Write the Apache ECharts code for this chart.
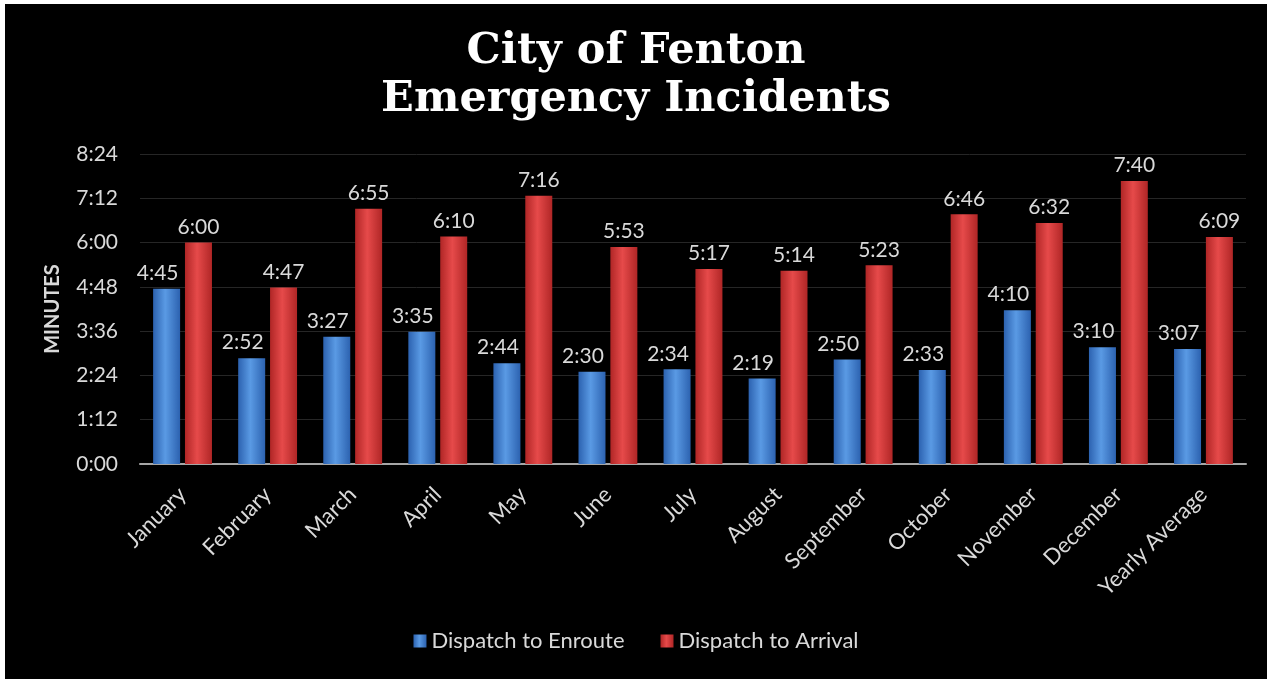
<!DOCTYPE html>
<html>
<head>
<meta charset="utf-8">
<script src="https://cdn.jsdelivr.net/npm/echarts@6/dist/echarts.min.js"></script>
<style>
  html, body { margin: 0; padding: 0; background: #ffffff; }
  #main { position: absolute; left: 5px; top: 4px; width: 1262px; height: 675px; background: #000; }
</style>
</head>
<body>
<div id="main"></div>
<script>
// months + yearly average
const categories = ['January', 'February', 'March', 'April', 'May', 'June', 'July',
  'August', 'September', 'October', 'November', 'December', 'Yearly Average']
// times in seconds
const enroute = [285, 172, 207, 215, 164, 150, 154, 139, 170, 153, 250, 190, 187]
const arrival = [360, 287, 415, 370, 436, 353, 317, 314, 323, 406, 392, 460, 369]

const txt = '#d9d9d9'
const font = 'Lato, "Open Sans", sans-serif'

function mmss(v) {
  const m = Math.floor(v / 60)
  const s = Math.round(v % 60)
  return m + ':' + (s < 10 ? '0' + s : s)
}

function barFill(dark, light) {
  return new echarts.graphic.LinearGradient(0, 0, 1, 0, [
    { offset: 0, color: dark },
    { offset: 0.45, color: light },
    { offset: 1, color: dark },
  ])
}

const chart = echarts.init(document.getElementById('main'))
const option = {
  backgroundColor: '#000',
  title: {
    text: 'City of Fenton\nEmergency Incidents',
    left: 'center',
    top: 19,
    textStyle: {
      fontFamily: '"DejaVu Serif", serif',
      fontWeight: 'bold',
      fontSize: 43,
      lineHeight: 48,
      color: '#ffffff',
    },
  },
  legend: {
    bottom: 22,
    left: 'center',
    itemWidth: 13,
    itemHeight: 13,
    itemGap: 36,
    icon: 'rect',
    textStyle: { color: txt, fontSize: 22, fontFamily: font },
    data: ['Dispatch to Enroute', 'Dispatch to Arrival'],
  },
  grid: { left: 135, right: 21, top: 150, bottom: 215 },
  xAxis: {
    type: 'category',
    data: categories,
    axisTick: { show: false },
    axisLine: { lineStyle: { color: '#a6a6a6', width: 2 } },
    axisLabel: {
      rotate: 45,
      color: txt,
      fontSize: 22,
      fontFamily: font,
      margin: 27,
    },
  },
  yAxis: {
    type: 'value',
    min: 0,
    max: 504,
    interval: 72,
    name: 'MINUTES',
    nameLocation: 'middle',
    nameGap: 77,
    nameRotate: 90,
    nameTextStyle: { color: txt, fontSize: 20, fontWeight: 'bold', fontFamily: font },
    axisLine: { show: false },
    axisTick: { show: false },
    axisLabel: { color: txt, fontSize: 21, fontFamily: font, margin: 22, formatter: mmss },
    splitLine: { lineStyle: { color: '#262626', width: 1 } },
  },
  series: [
    {
      name: 'Dispatch to Enroute',
      type: 'bar',
      data: enroute,
      barWidth: 27,
      barGap: '18%',
      itemStyle: { color: barFill('#2c62b0', '#5a9ae4') },
      label: {
        show: true,
        position: 'top',
        distance: 5,
        offset: [-9, 0],
        color: txt,
        fontSize: 21,
        fontFamily: font,
        formatter: (p) => mmss(p.value),
      },
    },
    {
      name: 'Dispatch to Arrival',
      type: 'bar',
      data: arrival,
      barWidth: 27,
      itemStyle: { color: barFill('#b02626', '#e64a4a') },
      label: {
        show: true,
        position: 'top',
        distance: 5,
        color: txt,
        fontSize: 21,
        fontFamily: font,
        formatter: (p) => mmss(p.value),
      },
    },
  ],
}
chart.setOption(option)
</script>
</body>
</html>
